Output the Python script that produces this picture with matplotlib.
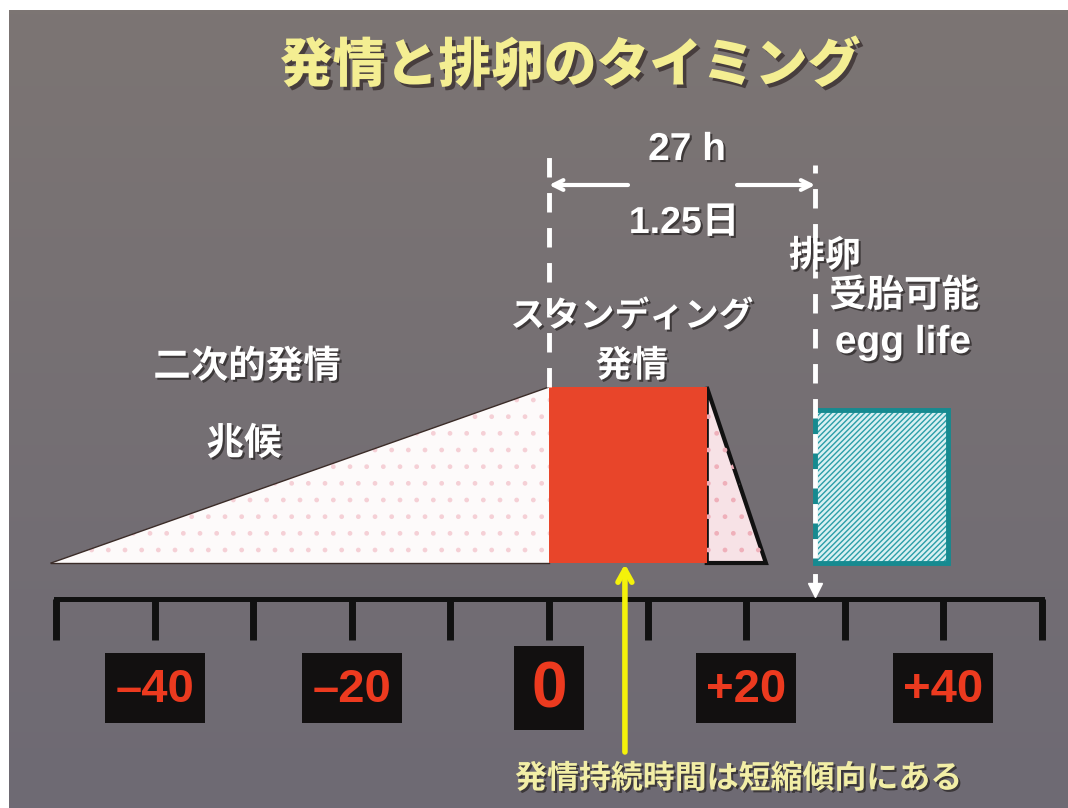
import numpy as np
import matplotlib
matplotlib.use("Agg")
import matplotlib.pyplot as plt
import matplotlib.patheffects as pe
from matplotlib.patches import Polygon, Rectangle

# hours relative to the start of standing heat
tick_hours = list(range(-50, 51, 10))
label_hours = [-40, -20, 0, 20, 40]
label_texts = ["–40", "–20", "0", "+20", "+40"]
signs_start = -50.5    # secondary signs ramp up to standing heat
standing_end = 16      # standing heat 0 .. 16 h
decline_end = 22
ovulation = 27         # 27 h = 1.25 days after onset
egg_life_end = 40.5
egg_level = 0.87
arrow_hour = 7.7

W, H = 1068, 808
X0, XS = 549, 9.86      # pixel of hour 0, pixels per hour
Y0, YS = 563, 176       # pixel of ground level, pixels per level

def hx(px): return (px - X0) / XS
def ly(py): return (Y0 - py) / YS

JP = ["Noto Sans CJK JP"]
LAT = ["Liberation Sans", "Noto Sans CJK JP"]
shadow = [pe.SimplePatchShadow(offset=(1.5, -1.5), shadow_rgbFace="#2a2626", alpha=0.75), pe.Normal()]
plt.rcParams["hatch.linewidth"] = 1.0

fig = plt.figure(figsize=(W / 100, H / 100), dpi=100, facecolor="white")

# slide background, slightly darker and bluer towards the bottom
bg = fig.add_axes([9 / W, 0, 1 - 9 / W, 1 - 10 / H])
top, bot = np.array([124, 117, 115]) / 255, np.array([110, 106, 116]) / 255
t = np.linspace(0, 1, 200)[:, None, None]
bg.imshow(top * (1 - t) + bot * t, aspect="auto", extent=(0, 1, 0, 1))
bg.axis("off")

ax = fig.add_axes([0, 0, 1, 1], facecolor="none")
ax.set_xlim(hx(0), hx(W))
ax.set_ylim(ly(H), ly(0))
ax.axis("off")

# secondary signs: rising wedge
ax.add_patch(Polygon([(signs_start, 0), (0, 1), (0, 0)], closed=True, facecolor="#fdfafa",
                     edgecolor="#f5d0d6", hatch=".", lw=0, zorder=2))
ax.plot([signs_start, 0], [0, 1], color="#3b2c28", lw=1, zorder=3)
ax.plot([signs_start, 0], [0, 0], color="#3b2c28", lw=1, zorder=3)

# standing heat and its decline
ax.add_patch(Polygon([(standing_end, 1), (decline_end, 0), (standing_end, 0)], closed=True,
                     facecolor="#f7e2e6", edgecolor="#111111", lw=3, zorder=3))
ax.add_patch(Polygon([(standing_end, 1), (decline_end, 0), (standing_end, 0)], closed=True,
                     facecolor="none", edgecolor="#efb0ba", hatch=".", lw=0, zorder=3))
ax.add_patch(Rectangle((0, 0), standing_end, 1, facecolor="#e8452a", edgecolor="none", zorder=4))

# fertile egg life after ovulation
ax.add_patch(Rectangle((ovulation, 0), egg_life_end - ovulation, egg_level, facecolor="#d9f0f2",
                       edgecolor="#2b9ea8", hatch="//////", lw=0, zorder=3))
ax.add_patch(Rectangle((ovulation, 0), egg_life_end - ovulation, egg_level, facecolor="none",
                       edgecolor="#168a90", lw=3.5, zorder=4))

# dashed markers at onset and ovulation
ax.plot([0, 0], [1, ly(153)], color="white", lw=3.5, dashes=(4, 3.2), zorder=5)
ax.plot([ovulation, ovulation], [ly(593), ly(165)], color="white", lw=3.5, dashes=(4, 3.2), zorder=5)
ax.plot([ovulation], [ly(590)], marker="v", color="white", ms=10, zorder=6)

# interval arrows
aprops = dict(arrowstyle="->,head_length=0.7,head_width=0.35", color="white", lw=3, shrinkA=0, shrinkB=0)
ax.annotate("", xy=(0, ly(185)), xytext=(hx(628), ly(185)), arrowprops=aprops, zorder=6)
ax.annotate("", xy=(ovulation, ly(185)), xytext=(hx(737), ly(185)), arrowprops=aprops, zorder=6)

# time axis
ax.plot([tick_hours[0], tick_hours[-1]], [ly(599), ly(599)], color="#111111", lw=3.6,
        solid_capstyle="projecting", zorder=5)
for h in tick_hours:
    ax.plot([h, h], [ly(599), ly(640)], color="#111111", lw=5, solid_capstyle="butt", zorder=5)

for h, s in zip(label_hours, label_texts):
    bw, bh, fs = (70, 84, 46) if h == 0 else (100, 70, 34)
    ax.add_patch(Rectangle((h - bw / 2 / XS, ly(688 + bh / 2)), bw / XS, bh / YS,
                           facecolor="#121010", edgecolor="none", zorder=5))
    ax.text(h, ly(690), s, ha="center", va="center", fontsize=fs, fontweight="bold",
            color="#ec3a1f", family=LAT, zorder=6)

# shortening duration arrow
ax.annotate("", xy=(arrow_hour, ly(564)), xytext=(arrow_hour, ly(752)),
            arrowprops=dict(arrowstyle="->,head_length=0.9,head_width=0.5", color="#f4f20a",
                            lw=4, shrinkA=0, shrinkB=0), zorder=7)

# labels
white = dict(color="white", fontweight="bold", ha="center", va="center", path_effects=shadow, zorder=8)
ax.text(hx(570), ly(66), "発情と排卵のタイミング", fontsize=38, family=JP, color="#f4ee92",
        fontweight="heavy", ha="center", va="center",
        path_effects=[pe.SimplePatchShadow(offset=(2.5, -2.5), shadow_rgbFace="#3a3030", alpha=0.8), pe.Normal()])
ax.text(hx(687), ly(150), "27 h", fontsize=28, family=LAT, **white)
ax.text(hx(684), ly(223), "1.25日", fontsize=27, family=LAT, **white)
ax.text(hx(825), ly(256), "排卵", fontsize=26, family=JP, **white)
ax.text(hx(904), ly(295), "受胎可能", fontsize=27, family=JP, **white)
ax.text(hx(903), ly(343), "egg life", fontsize=28, family=LAT, **white)
ax.text(hx(632), ly(316), "スタンディング", fontsize=25, family=JP, **white)
ax.text(hx(632), ly(366), "発情", fontsize=26, family=JP, **white)
ax.text(hx(247), ly(366), "二次的発情", fontsize=27, family=JP, **white)
ax.text(hx(244), ly(443), "兆候", fontsize=27, family=JP, **white)
ax.text(hx(739), ly(779), "発情持続時間は短縮傾向にある", fontsize=23, family=JP, color="#f2eea6",
        fontweight="bold", ha="center", va="center", path_effects=shadow, zorder=8)

fig.savefig("out.png", dpi=100, facecolor="white")
